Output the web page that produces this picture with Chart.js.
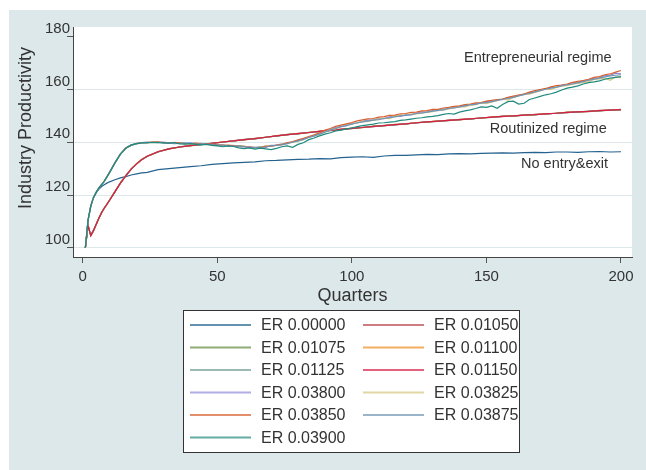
<!DOCTYPE html>
<html><head><meta charset="utf-8">
<style>html,body{margin:0;padding:0;background:#fff;}#wrap{width:646px;height:470px;}</style>
<script src="https://cdn.jsdelivr.net/npm/chart.js@4/dist/chart.umd.min.js"></script>
</head><body><div id="wrap"><canvas id="c" width="646" height="470"></canvas></div>
<script>
// ---- data ----
// quarter grid for the smooth series (no entry & routinized regime)
const quarters = [1,2,3,4,5,6,7,8,9,10,
  12,14,16,18,20,22,24,
  28,32,36,40,44,48,52,56,60,64,68,
  72,76,80,84,88,92,96,100,104,108,112,
  116,120,124,128,132,136,140,144,148,152,156,
  160,164,168,172,176,180,184,188,192,196,200];

// finer quarter grid for the noisy entrepreneurial-regime series
const quartersFine = [1,2,3,4,5,6,7,8,9,10,
  12,14,16,18,20,22,24,26,
  28,30,32,34,36,38,40,42,44,46,
  48,50,52,54,56,58,60,62,64,66,
  68,70,72,74,76,78,80,82,84,86,
  88,90,92,94,96,98,100,102,104,106,
  108,110,112,114,116,118,120,122,124,126,
  128,130,132,134,136,138,140,142,144,146,
  148,150,152,154,156,158,160,162,164,166,
  168,170,172,174,176,178,180,182,184,186,
  188,190,192,194,196,198,200];

const seriesLabels = ['ER 0.00000','ER 0.01050','ER 0.01075','ER 0.01100','ER 0.01125','ER 0.01150',
  'ER 0.03800','ER 0.03825','ER 0.03850','ER 0.03875','ER 0.03900'];

const er00000 = [100,110.5,115.8,119.0,120.8,122.2,123.2,123.9,124.5,125.0,
  125.8,126.5,127.0,127.6,128.0,128.4,128.6,
  129.6,130.0,130.4,130.8,131.1,131.6,131.9,132.2,132.4,132.6,133.0,
  133.1,133.3,133.5,133.6,133.8,133.7,134.2,134.4,134.5,134.3,134.8,
  135.0,135.0,135.2,135.4,135.3,135.6,135.7,135.6,135.8,135.9,136.0,
  135.9,136.1,136.2,136.1,136.3,136.3,136.2,136.4,136.5,136.3,136.4];

const er01050 = [100,108.3,104.7,106.6,108.9,111.1,113.2,115.1,116.6,118.1,
  121.4,124.4,127.2,129.9,131.7,133.4,134.8,
  136.5,137.4,138.3,138.8,139.1,139.7,140.0,140.6,140.9,141.5,141.8,
  142.5,142.8,143.4,143.6,144.2,144.4,145.0,145.2,145.7,145.9,146.4,
  146.6,147.1,147.3,147.8,147.9,148.4,148.5,149.0,149.1,149.6,149.7,
  150.1,150.2,150.6,150.7,151.1,151.2,151.6,151.6,152.1,152.1,152.5];

const er01075 = [100,108.6,104.5,106.4,108.7,111.3,113.4,114.9,116.4,118.0,
  121.2,124.6,127.4,129.7,131.9,133.6,134.6,
  136.3,137.6,138.1,138.7,139.3,139.5,140.2,140.4,141.1,141.3,142.0,
  142.3,143.0,143.2,143.8,144.0,144.6,144.8,145.4,145.5,146.1,146.2,
  146.8,146.9,147.5,147.6,148.1,148.2,148.7,148.8,149.3,149.4,149.9,
  149.9,150.4,150.4,150.9,150.9,151.4,151.4,151.8,151.9,152.3,152.3];

const er01100 = [100,108.4,104.6,106.5,108.8,111.2,113.3,115.0,116.5,118.1,
  121.3,124.5,127.3,129.8,131.8,133.5,134.7,
  136.4,137.5,138.2,138.6,139.2,139.6,140.1,140.5,140.9,141.4,141.9,
  142.4,142.9,143.3,143.7,144.1,144.5,144.9,145.3,145.6,146.0,146.3,
  146.7,147.0,147.4,147.7,148.0,148.3,148.6,148.9,149.2,149.5,149.8,
  150.0,150.3,150.5,150.8,151.0,151.3,151.5,151.7,152.0,152.2,152.4];

const er01125 = [100,108.5,104.6,106.4,108.8,111.1,113.3,115.0,116.4,118.0,
  121.2,124.4,127.3,129.8,131.7,133.5,134.7,
  136.3,137.5,138.2,138.7,139.1,139.6,140.0,140.5,141.0,141.3,141.9,
  142.3,142.9,143.2,143.7,144.0,144.5,144.8,145.3,145.6,145.9,146.3,
  146.6,147.0,147.3,147.7,147.9,148.3,148.6,148.8,149.2,149.4,149.8,
  149.9,150.3,150.5,150.7,151.0,151.2,151.5,151.7,151.9,152.2,152.3];

const er01150 = [100,108.5,104.6,106.5,108.8,111.2,113.3,115.0,116.5,118.0,
  121.3,124.5,127.3,129.8,131.8,133.5,134.7,
  136.4,137.5,138.2,138.7,139.2,139.6,140.1,140.5,141.0,141.4,141.9,
  142.4,142.9,143.3,143.7,144.1,144.5,144.9,145.3,145.6,146.0,146.3,
  146.7,147.0,147.4,147.7,148.0,148.3,148.6,148.9,149.2,149.5,149.8,
  150.0,150.3,150.5,150.8,151.0,151.3,151.5,151.7,152.0,152.2,152.4];

const er03800 = [100,110.5,115.8,119.0,121.0,122.6,123.9,125.3,127.0,128.7,
  132.3,135.6,137.8,139.0,139.6,139.9,140.1,140.0,
  139.9,140.1,139.8,139.6,139.9,139.5,139.8,139.4,139.6,139.2,
  139.3,138.8,139.0,138.5,138.8,138.3,138.2,138.4,138.0,138.3,
  138.1,138.8,138.9,139.4,139.5,140.3,140.7,141.0,141.9,142.3,
  143.3,144.1,144.7,145.6,146.0,146.3,147.2,147.3,147.9,148.4,
  148.4,149.1,149.0,149.6,149.9,149.8,150.5,150.4,151.0,151.5,
  151.4,152.0,152.0,152.6,152.7,153.3,153.4,154.0,154.1,154.7,
  154.7,155.4,155.3,156.1,156.2,156.9,157.1,157.8,158.0,158.9,
  159.0,159.9,160.1,160.9,160.8,161.7,161.8,162.6,162.5,163.4,
  163.6,164.3,164.4,165.3,165.4,166.2,165.9];

const er03825 = [100,110.4,115.7,118.9,121.1,122.5,124.0,125.1,126.8,128.5,
  132.1,135.4,137.6,138.8,139.6,139.7,140.0,140.2,
  140.1,139.8,139.6,140.0,139.8,139.5,139.3,139.6,139.6,139.2,
  139.0,139.2,138.9,138.6,138.5,138.7,138.6,138.0,137.9,138.2,
  138.5,138.4,138.8,139.3,139.8,139.9,140.3,141.2,142.1,142.4,
  143.0,143.9,144.7,145.1,145.9,146.7,147.0,147.4,147.9,147.8,
  148.4,148.9,149.1,149.0,149.9,150.3,150.2,150.7,150.8,151.0,
  151.4,151.6,152.3,152.2,152.6,153.0,153.5,153.4,154.0,154.3,
  154.9,154.6,155.3,155.8,156.4,156.0,157.0,157.6,158.4,158.2,
  158.9,159.6,160.1,160.0,160.8,161.4,161.5,162.0,162.4,162.6,
  163.0,163.8,164.0,164.4,163.5,164.8,164.5];

const er03850 = [100,110.6,115.9,119.1,121.0,122.7,123.9,125.3,126.9,128.6,
  132.3,135.5,137.8,138.9,139.5,139.9,139.8,140.1,
  140.2,139.9,139.8,139.9,139.8,139.6,139.5,139.7,139.4,139.4,
  139.3,139.0,138.8,138.9,138.7,138.5,138.4,138.1,138.1,138.0,
  138.5,138.5,138.9,139.1,139.9,140.2,140.9,141.5,142.2,142.8,
  143.6,144.6,145.2,146.0,146.5,147.0,147.5,148.1,148.5,148.9,
  149.0,149.5,149.7,150.2,150.3,150.8,150.9,151.3,151.4,151.9,
  152.0,152.5,152.5,153.0,153.2,153.6,153.8,154.3,154.5,154.9,
  155.0,155.6,155.9,156.2,156.4,157.0,157.5,157.9,158.3,159.0,
  159.6,160.0,160.4,161.0,161.5,161.7,162.1,162.7,163.1,163.4,
  163.9,164.6,164.9,165.6,165.9,166.6,167.2];

const er03875 = [100,110.5,115.8,119.0,120.9,122.6,123.8,125.2,126.8,128.5,
  132.2,135.4,137.7,138.9,139.4,139.8,139.9,140.0,
  140.0,139.8,139.7,139.5,139.6,139.8,139.6,139.3,139.4,139.3,
  139.1,138.9,138.9,138.6,138.5,138.6,138.4,137.9,138.0,138.1,
  138.2,138.6,138.8,139.0,139.5,140.0,140.5,141.1,141.8,142.4,
  143.1,143.8,144.7,145.2,145.9,146.3,146.9,147.4,147.7,148.1,
  148.4,148.6,149.0,149.3,149.6,150.0,150.2,150.5,150.9,151.1,
  151.4,151.8,152.1,152.3,152.9,153.0,153.4,153.8,154.3,154.4,
  154.9,155.0,155.4,155.9,156.3,156.6,157.0,157.6,158.1,158.5,
  159.1,159.6,160.1,160.5,160.9,161.4,161.8,162.1,162.5,163.0,
  163.5,163.9,164.3,164.8,165.2,165.4,165.6];

const er03900 = [100,110.5,115.8,119.0,121.0,122.6,123.9,125.2,126.9,128.6,
  132.2,135.5,137.7,138.9,139.5,139.8,139.9,139.9,
  139.9,139.8,139.7,139.9,139.4,139.3,139.5,139.2,139.0,139.2,
  138.8,138.6,138.3,138.6,138.4,137.9,137.6,137.9,137.4,137.8,
  137.5,137.2,137.7,138.3,138.6,138.1,139.2,139.8,141.0,141.6,
  142.4,143.1,143.6,144.3,144.6,145.1,145.4,145.9,146.3,146.6,
  146.9,147.3,147.4,147.6,147.8,148.3,148.5,148.8,149.1,149.3,
  149.6,149.8,150.1,150.6,150.9,150.7,151.4,151.9,152.3,152.8,
  153.4,153.2,153.8,152.9,154.3,155.4,155.6,154.5,154.8,156.2,
  156.8,157.4,158.0,158.4,159.0,159.8,160.5,160.9,161.4,162.1,
  162.6,162.9,163.3,163.9,164.3,164.6,164.9];

const xTickValues = [0,50,100,150,200];
const yTickValues = [100,120,140,160,180];

const regimeLabels = ['Entrepreneurial regime','Routinized regime','No entry&exit'];
const regimeLabelX = [196.5,194.7,195.2];
const regimeLabelY = [171.9,145.1,131.9];

// ---- styling ----
const allSeries = [er00000,er01050,er01075,er01100,er01125,er01150,er03800,er03825,er03850,er03875,er03900];
const seriesQuarters = allSeries.map((s,i)=> i >= 6 ? quartersFine : quarters);
const colors = ['#24628f','#b8454d','#5f8a3a','#f08a20','#6e9e94','#d81e47',
  '#8f8ad8','#d4c67a','#d9602e','#6f94b4','#1f8a7e'];
allSeries.forEach((s,i)=>{ if (s.length !== seriesQuarters[i].length) throw new Error('length mismatch in series '+i+': '+s.length+' vs '+seriesQuarters[i].length); });

const FONT = '"Liberation Sans", Arial, Helvetica, sans-serif';
Chart.defaults.font.family = FONT;
Chart.defaults.color = '#333';

const N = allSeries.length;
const datasets = allSeries.map((s,i)=>({
  label: seriesLabels[i],
  data: seriesQuarters[i].map((q,j)=>({x:q, y:s[j]})),
  borderColor: colors[i],
  backgroundColor: colors[i],
  borderWidth: 1.2,
  pointRadius: 0,
  tension: 0,
  fill: false,
  order: N - i
}));

const bgPlugin = {
  id: 'bg',
  beforeDraw(chart){
    const {ctx, chartArea:a} = chart;
    ctx.save();
    ctx.fillStyle = '#ffffff';
    ctx.fillRect(0,0,chart.width,chart.height);
    ctx.fillStyle = '#dde8ea';
    ctx.fillRect(9,10,chart.width-9,chart.height-10);
    ctx.fillStyle = '#ffffff';
    ctx.fillRect(a.left,a.top,a.right-a.left,a.bottom-a.top);
    ctx.restore();
  },
  afterDraw(chart){
    const {ctx, scales} = chart;
    ctx.save();
    ctx.fillStyle = '#333';
    ctx.font = '18px ' + FONT;
    ctx.textAlign = 'center';
    ctx.textBaseline = 'middle';
    ctx.translate(26,128);
    ctx.rotate(-Math.PI/2);
    ctx.fillText('Industry Productivity',0,0);
    ctx.restore();

    ctx.save();
    ctx.fillStyle = '#333';
    ctx.font = '14.5px ' + FONT;
    ctx.textAlign = 'right';
    ctx.textBaseline = 'middle';
    regimeLabels.forEach((t,i)=>{
      ctx.fillText(t, scales.x.getPixelForValue(regimeLabelX[i]), scales.y.getPixelForValue(regimeLabelY[i]));
    });
    ctx.restore();

    ctx.save();
    const L = 183.5, T = 310.5, R = 519.5, B = 452.5;
    ctx.fillStyle = '#fff';
    ctx.fillRect(L,T,R-L,B-T);
    ctx.strokeStyle = '#333';
    ctx.lineWidth = 1;
    ctx.strokeRect(L,T,R-L,B-T);
    ctx.font = '16px ' + FONT;
    ctx.textAlign = 'left';
    ctx.textBaseline = 'middle';
    chart.data.datasets.forEach((ds,i)=>{
      const col = i % 2, row = Math.floor(i/2);
      const y = 325 + row*22.5;
      const x0 = col === 0 ? 190 : 363;
      ctx.globalAlpha = 0.7;
      ctx.strokeStyle = ds.borderColor;
      ctx.lineWidth = 2;
      ctx.beginPath(); ctx.moveTo(x0,y); ctx.lineTo(x0+61,y); ctx.stroke();
      ctx.globalAlpha = 1;
      ctx.fillStyle = '#333';
      ctx.fillText(ds.label, x0+71, y+1);
    });
    ctx.restore();
  }
};

new Chart(document.getElementById('c'), {
  type: 'line',
  data: { datasets },
  options: {
    responsive: false,
    animation: false,
    devicePixelRatio: 1,
    layout: { padding: { left: 0, top: 27, right: 14, bottom: 163 } },
    plugins: { legend: { display: false }, tooltip: { enabled: false } },
    scales: {
      x: {
        type: 'linear', min: -3.6, max: 204.1,
        afterBuildTicks(s){ s.ticks = xTickValues.map(v=>({value:v})); },
        afterFit(s){ s.height = 50; },
        grid: { drawOnChartArea: false, drawTicks: true, tickLength: 6, tickColor: '#555', tickWidth: 1 },
        border: { display: true, color: '#444', width: 1 },
        ticks: { font: { size: 15 }, color: '#333', padding: 5, maxRotation: 0, autoSkip: false },
        title: { display: true, text: 'Quarters', font: { size: 18 }, color: '#333', padding: { top: 0, bottom: 0 } }
      },
      y: {
        type: 'linear', min: 96.5, max: 183.7,
        afterBuildTicks(s){ s.ticks = yTickValues.map(v=>({value:v})); },
        afterFit(s){ s.width = 73; },
        grid: { color: (c)=> (c.tick && c.tick.value === 180) ? 'rgba(0,0,0,0)' : '#dde8ea', lineWidth: 1,
                drawTicks: true, tickLength: 6, tickColor: '#555', tickWidth: 1 },
        border: { display: true, color: '#444', width: 1 },
        ticks: { font: { size: 15 }, color: '#333', padding: -3, labelOffset: -8, autoSkip: false }
      }
    }
  },
  plugins: [bgPlugin]
});
</script>
</body></html>
